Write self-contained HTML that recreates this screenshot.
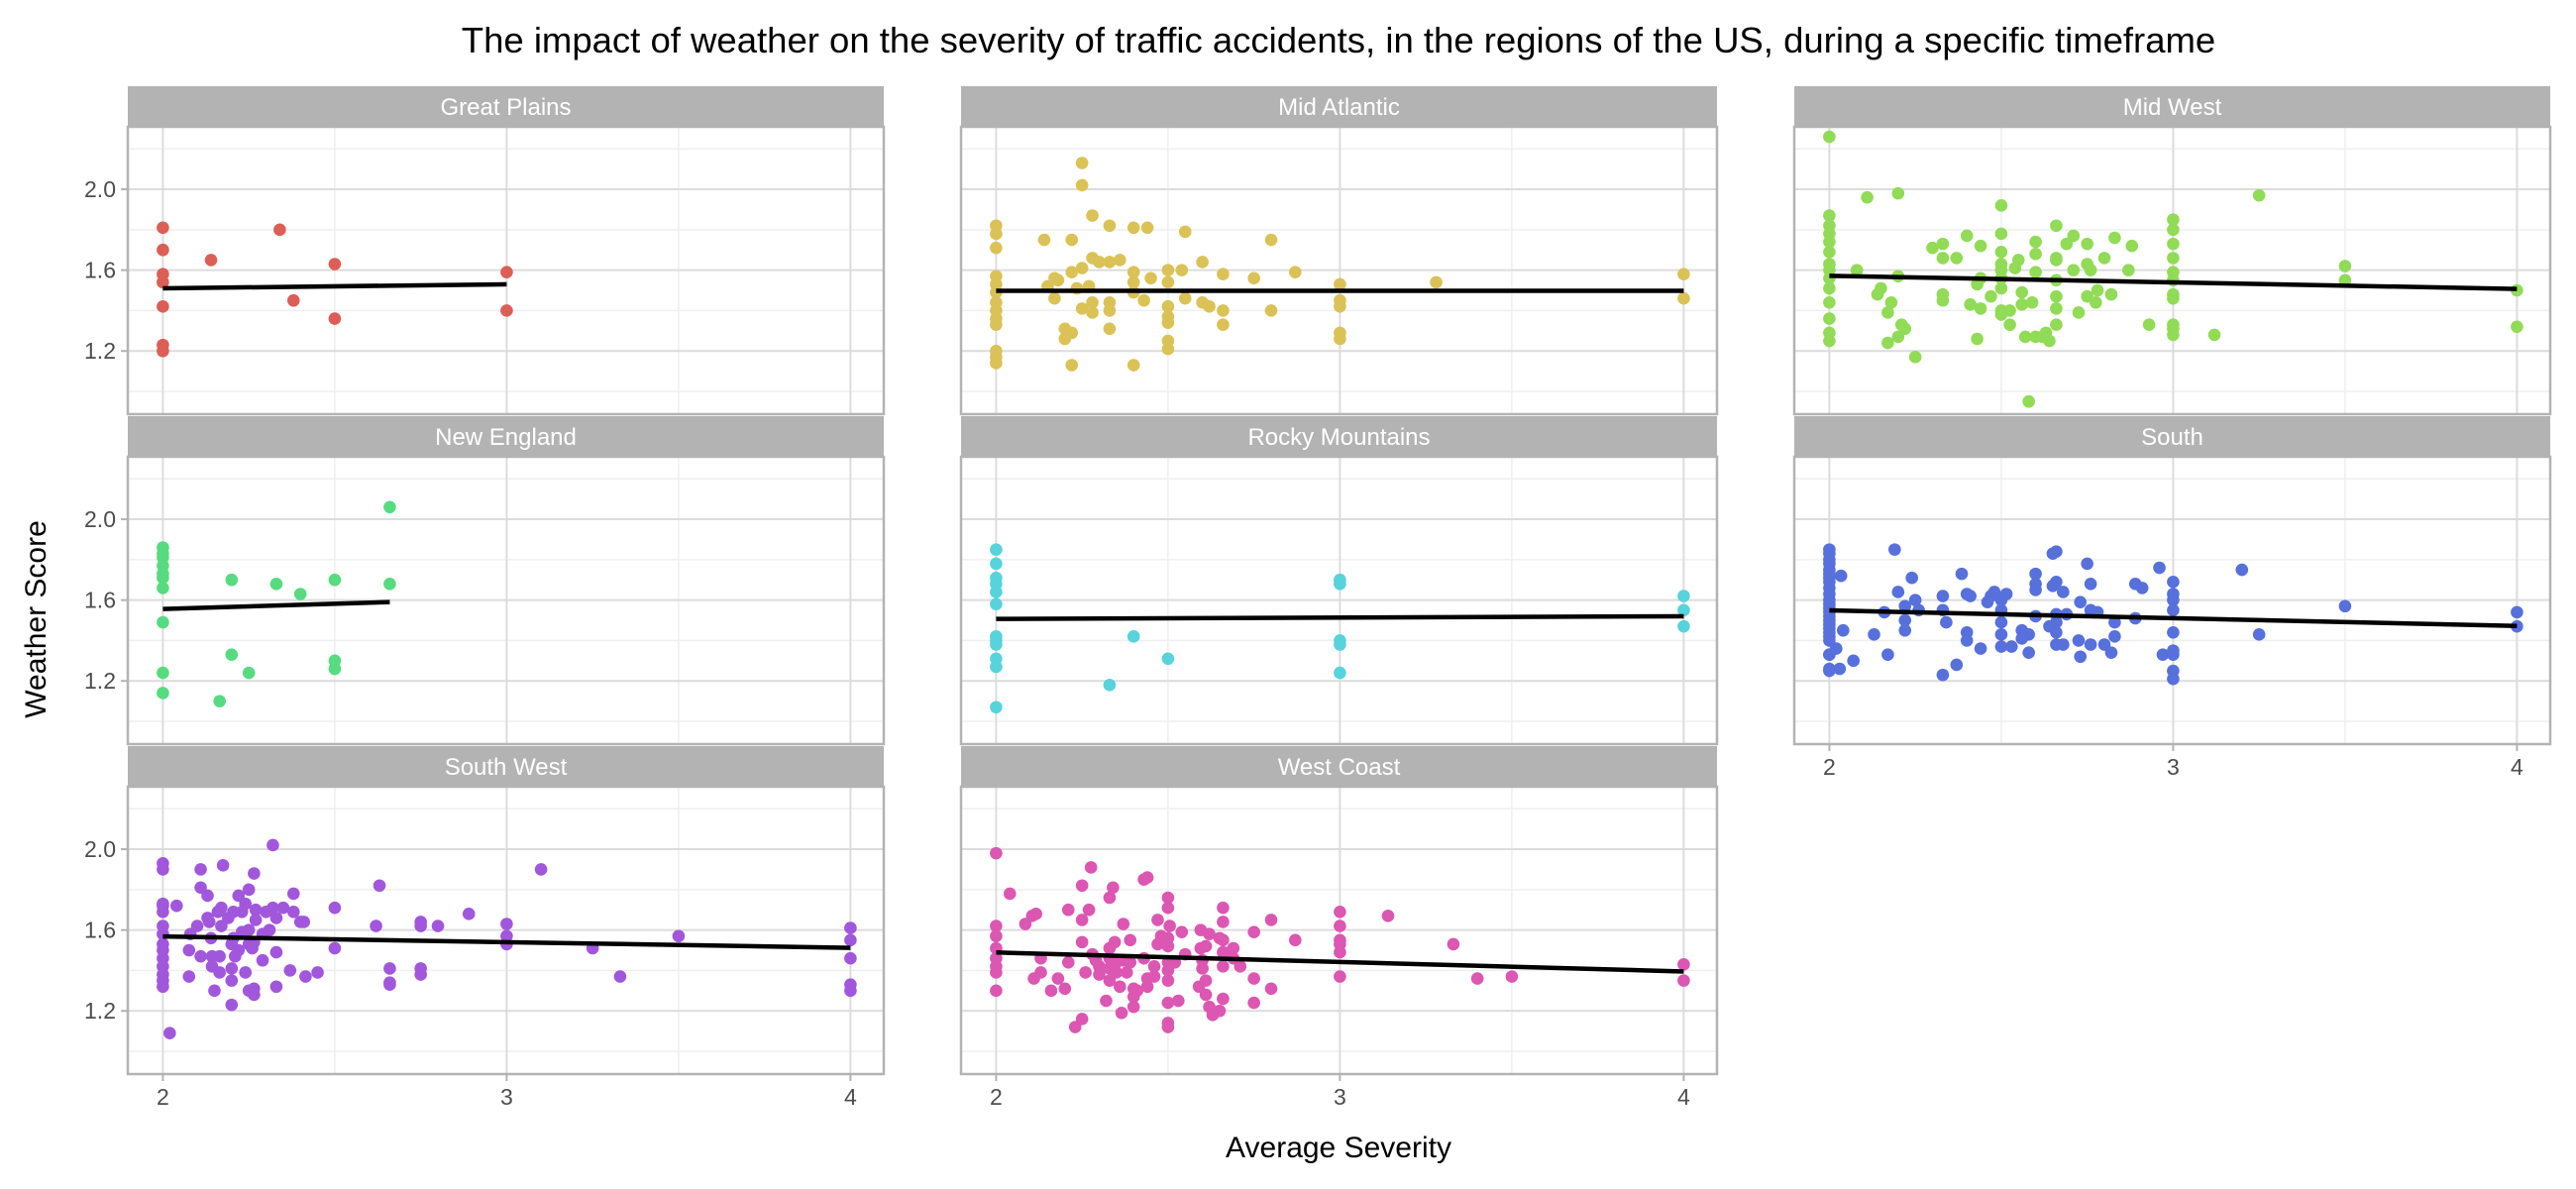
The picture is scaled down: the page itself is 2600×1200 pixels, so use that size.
<!DOCTYPE html>
<html><head><meta charset="utf-8"><style>
html,body{margin:0;padding:0;background:#fff;}
svg{display:block;font-family:"Liberation Sans",sans-serif;}
</style></head><body>
<svg id="chart" width="2600" height="1200" viewBox="0 0 2600 1200" xmlns="http://www.w3.org/2000/svg">
<rect width="2600" height="1200" fill="#fff"/>
<text x="1351" y="53" text-anchor="middle" font-size="36.5" fill="#000">The impact of weather on the severity of traffic accidents, in the regions of the US, during a specific timeframe</text>
<text x="1351" y="1168" text-anchor="middle" font-size="30" fill="#000">Average Severity</text>
<text x="46" y="625" text-anchor="middle" font-size="30" fill="#000" transform="rotate(-90 46 625)">Weather Score</text>
<g id="panels"></g>
</svg>
<script>
const regions = ["Great Plains","Mid Atlantic","Mid West","New England","Rocky Mountains","South","South West","West Coast"];
const colors = ["#db5f57","#dbc257","#91db57","#57db80","#57d3db","#5770db","#a157db","#db57b2"];
const xTicks = [2,3,4];
const yTicks = [1.2,1.6,2.0];
const yTickLabels = ["1.2","1.6","2.0"];

const gpX = [2,2,2,2,2,2,2,2.14,2.34,2.38,2.5,2.5,3,3];
const gpY = [1.81,1.70,1.58,1.54,1.42,1.23,1.20,1.65,1.80,1.45,1.63,1.36,1.59,1.40];

const maX = [2,2,2,2,2,2,2,2,2,2,2,2,2,2.14,2.15,2.17,2.17,2.18,2.20,2.20,2.22,2.22,2.22,2.22,2.235,2.25,2.25,2.25,2.25,2.27,2.28,2.28,2.28,2.28,2.30,2.33,2.33,2.33,2.33,2.33,2.36,2.40,2.40,2.40,2.40,2.40,2.43,2.44,2.45,2.5,2.5,2.5,2.5,2.5,2.5,2.5,2.54,2.55,2.55,2.60,2.60,2.62,2.66,2.66,2.66,2.75,2.80,2.80,2.87,3,3,3,3,3,3.28,4,4];
const maY = [1.82,1.78,1.71,1.57,1.53,1.49,1.44,1.40,1.36,1.33,1.20,1.17,1.14,1.75,1.52,1.56,1.46,1.55,1.31,1.26,1.75,1.59,1.29,1.13,1.51,2.13,2.02,1.61,1.41,1.52,1.87,1.66,1.44,1.39,1.64,1.82,1.64,1.44,1.40,1.31,1.65,1.81,1.59,1.54,1.49,1.13,1.45,1.81,1.56,1.60,1.54,1.42,1.37,1.34,1.25,1.21,1.60,1.79,1.46,1.64,1.44,1.42,1.58,1.40,1.33,1.56,1.75,1.40,1.59,1.53,1.45,1.42,1.29,1.26,1.54,1.58,1.46];

const mwX = [2,2,2,2,2,2,2,2,2,2,2,2,2,2,2.08,2.11,2.14,2.15,2.17,2.17,2.18,2.20,2.20,2.20,2.21,2.22,2.25,2.30,2.33,2.33,2.33,2.33,2.37,2.40,2.41,2.43,2.43,2.44,2.44,2.44,2.47,2.5,2.5,2.5,2.5,2.5,2.5,2.5,2.5,2.5,2.525,2.525,2.54,2.55,2.56,2.56,2.57,2.58,2.59,2.60,2.60,2.60,2.60,2.62,2.63,2.64,2.66,2.66,2.66,2.66,2.66,2.66,2.66,2.69,2.71,2.71,2.725,2.75,2.75,2.75,2.76,2.775,2.78,2.80,2.82,2.83,2.87,2.88,2.93,3,3,3,3,3,3,3,3,3,3,3,3.12,3.25,3.5,3.5,4,4];
const mwY = [2.26,1.87,1.82,1.78,1.74,1.69,1.63,1.60,1.56,1.51,1.44,1.36,1.29,1.25,1.60,1.96,1.48,1.51,1.39,1.24,1.44,1.98,1.57,1.27,1.33,1.31,1.17,1.71,1.73,1.66,1.48,1.45,1.66,1.77,1.43,1.53,1.26,1.72,1.56,1.41,1.47,1.92,1.78,1.69,1.63,1.60,1.56,1.51,1.40,1.38,1.33,1.40,1.61,1.65,1.49,1.43,1.27,0.95,1.44,1.74,1.68,1.59,1.27,1.27,1.29,1.25,1.82,1.66,1.65,1.55,1.47,1.41,1.33,1.73,1.77,1.60,1.39,1.73,1.63,1.47,1.60,1.44,1.50,1.66,1.48,1.76,1.60,1.72,1.33,1.85,1.80,1.73,1.66,1.59,1.55,1.48,1.46,1.33,1.31,1.28,1.28,1.97,1.62,1.55,1.50,1.32];

const neX = [2,2,2,2,2,2,2,2,2,2,2.165,2.20,2.20,2.25,2.33,2.40,2.5,2.5,2.5,2.66,2.66];
const neY = [1.86,1.83,1.81,1.77,1.73,1.71,1.66,1.49,1.24,1.14,1.10,1.70,1.33,1.24,1.68,1.63,1.70,1.30,1.26,2.06,1.68];

const rmX = [2,2,2,2,2,2,2,2,2,2,2,2,2.33,2.40,2.5,3,3,3,3,3,4,4,4];
const rmY = [1.85,1.78,1.71,1.68,1.64,1.58,1.42,1.40,1.38,1.31,1.27,1.07,1.18,1.42,1.31,1.70,1.68,1.40,1.38,1.24,1.62,1.55,1.47];

const soX = [2,2,2,2,2,2,2,2,2,2,2,2,2,2,2,2,2,2,2,2,2,2,2,2,2.02,2.0,2.03,2.034,2.04,2.07,2.13,2.16,2.17,2.19,2.20,2.22,2.22,2.22,2.24,2.25,2.26,2.33,2.33,2.33,2.34,2.37,2.385,2.40,2.40,2.40,2.41,2.44,2.46,2.47,2.48,2.5,2.5,2.5,2.5,2.5,2.515,2.53,2.56,2.56,2.58,2.58,2.60,2.60,2.60,2.60,2.64,2.65,2.65,2.66,2.66,2.66,2.66,2.66,2.66,2.68,2.68,2.69,2.725,2.73,2.73,2.75,2.76,2.76,2.76,2.78,2.80,2.82,2.83,2.83,2.89,2.89,2.91,2.96,2.97,3,3,3,3,3,3,3,3,3,3.20,3.25,3.5,4,4];
const soY = [1.85,1.83,1.80,1.78,1.75,1.73,1.71,1.69,1.66,1.63,1.60,1.58,1.56,1.54,1.52,1.50,1.48,1.46,1.44,1.42,1.40,1.33,1.26,1.25,1.36,1.33,1.26,1.72,1.45,1.30,1.43,1.54,1.33,1.85,1.64,1.57,1.50,1.45,1.71,1.60,1.55,1.62,1.55,1.23,1.49,1.28,1.73,1.63,1.44,1.40,1.62,1.36,1.59,1.62,1.64,1.60,1.55,1.49,1.43,1.37,1.63,1.37,1.45,1.41,1.34,1.43,1.73,1.68,1.65,1.52,1.47,1.83,1.67,1.84,1.69,1.53,1.49,1.44,1.38,1.64,1.38,1.53,1.40,1.59,1.32,1.78,1.68,1.55,1.38,1.54,1.38,1.34,1.49,1.42,1.68,1.51,1.66,1.76,1.33,1.69,1.63,1.60,1.55,1.44,1.35,1.33,1.25,1.21,1.75,1.43,1.57,1.54,1.47];

const swX = [2,2,2,2,2,2,2,2,2,2,2,2,2,2,2.02,2.04,2.076,2.076,2.08,2.10,2.11,2.11,2.11,2.13,2.13,2.135,2.14,2.143,2.143,2.15,2.16,2.165,2.165,2.17,2.17,2.175,2.19,2.20,2.20,2.20,2.20,2.205,2.205,2.21,2.22,2.22,2.23,2.23,2.24,2.24,2.25,2.25,2.25,2.25,2.26,2.265,2.265,2.265,2.265,2.27,2.27,2.29,2.29,2.30,2.31,2.32,2.32,2.33,2.33,2.33,2.35,2.37,2.38,2.38,2.40,2.41,2.415,2.45,2.5,2.5,2.62,2.63,2.66,2.66,2.66,2.75,2.75,2.75,2.75,2.80,2.89,3,3,3,3.10,3.25,3.33,3.5,4,4,4,4,4];
const swY = [1.93,1.90,1.73,1.72,1.69,1.62,1.58,1.53,1.50,1.46,1.42,1.38,1.35,1.32,1.09,1.72,1.50,1.37,1.58,1.62,1.90,1.81,1.47,1.77,1.66,1.64,1.56,1.42,1.47,1.30,1.69,1.47,1.39,1.71,1.62,1.92,1.66,1.41,1.35,1.23,1.53,1.69,1.56,1.47,1.77,1.50,1.59,1.69,1.39,1.73,1.80,1.60,1.53,1.30,1.51,1.88,1.28,1.31,1.54,1.65,1.70,1.45,1.58,1.69,1.60,1.71,2.02,1.66,1.49,1.32,1.71,1.40,1.78,1.69,1.64,1.64,1.37,1.39,1.71,1.51,1.62,1.82,1.41,1.34,1.33,1.64,1.62,1.41,1.38,1.62,1.68,1.63,1.57,1.53,1.90,1.51,1.37,1.57,1.61,1.55,1.46,1.33,1.30];

const wcX = [2,2,2,2,2,2,2,2,2.04,2.085,2.105,2.116,2.11,2.13,2.13,2.16,2.18,2.20,2.21,2.21,2.23,2.25,2.25,2.25,2.25,2.26,2.27,2.276,2.28,2.29,2.30,2.30,2.32,2.33,2.33,2.33,2.33,2.33,2.34,2.345,2.35,2.35,2.36,2.365,2.37,2.37,2.38,2.39,2.39,2.40,2.40,2.40,2.41,2.43,2.43,2.44,2.44,2.44,2.46,2.46,2.47,2.47,2.48,2.5,2.5,2.5,2.5,2.5,2.5,2.5,2.5,2.5,2.5,2.505,2.52,2.53,2.54,2.55,2.59,2.595,2.595,2.60,2.60,2.61,2.61,2.61,2.62,2.62,2.63,2.65,2.65,2.66,2.66,2.66,2.66,2.66,2.66,2.68,2.69,2.69,2.71,2.75,2.75,2.75,2.80,2.80,2.87,3,3,3,3,3,3,3.14,3.33,3.40,3.5,4,4];
const wcY = [1.98,1.62,1.57,1.51,1.46,1.42,1.39,1.30,1.78,1.63,1.67,1.68,1.36,1.46,1.39,1.30,1.36,1.31,1.70,1.44,1.12,1.82,1.65,1.54,1.16,1.39,1.70,1.91,1.48,1.45,1.42,1.38,1.25,1.51,1.46,1.41,1.76,1.35,1.81,1.54,1.44,1.39,1.32,1.19,1.63,1.45,1.39,1.55,1.44,1.31,1.27,1.22,1.30,1.85,1.46,1.86,1.36,1.32,1.42,1.37,1.53,1.65,1.57,1.76,1.71,1.56,1.52,1.44,1.40,1.35,1.24,1.14,1.12,1.62,1.44,1.25,1.59,1.48,1.32,1.60,1.51,1.45,1.41,1.52,1.35,1.28,1.22,1.58,1.18,1.56,1.20,1.71,1.64,1.55,1.49,1.42,1.26,1.49,1.51,1.46,1.42,1.59,1.36,1.24,1.65,1.31,1.55,1.69,1.62,1.55,1.53,1.49,1.37,1.67,1.53,1.36,1.37,1.43,1.35];

const allX = [gpX, maX, mwX, neX, rmX, soX, swX, wcX];
const allY = [gpY, maY, mwY, neY, rmY, soY, swY, wcY];
const trendX0 = [2,2,2,2,2,2,2,2];
const trendX1 = [3,4,4,2.66,4,4,4,4];
const trendY0 = [1.51,1.498,1.572,1.556,1.507,1.549,1.568,1.489];
const trendY1 = [1.53,1.498,1.507,1.59,1.52,1.472,1.512,1.395];

const NS = "http://www.w3.org/2000/svg";
const colLeft = [129, 970, 1811];
const rowTop = [128, 461, 794];
const PW = 763, PH = 290, STRIP = 41;
const X_MIN = 1.898, X_PER = 347, Y_MAX = 2.309, Y_PER = 204;
const xMinor = [2.5, 3.5];
const yMinor = [1.0, 1.4, 1.8, 2.2];

function mk(tag, attrs, parent) {
  const e = document.createElementNS(NS, tag);
  for (const k in attrs) e.setAttribute(k, attrs[k]);
  parent.appendChild(e);
  return e;
}
const root = document.getElementById("panels");

regions.forEach((name, i) => {
  const col = i % 3, row = Math.floor(i / 3);
  const L = colLeft[col], T = rowTop[row];
  const sx = v => L + (v - X_MIN) * X_PER;
  const sy = v => T + (Y_MAX - v) * Y_PER;
  const g = mk("g", {}, root);
  
  

  const strip = mk("rect", {x: L, y: T - STRIP, width: PW, height: STRIP, fill: "#b3b3b3"}, g);
  
  
  const st = mk("text", {x: L + PW / 2, y: T - 12, "text-anchor": "middle", "font-size": 24, fill: "#fff"}, g);
  st.textContent = name;
  
  

  yMinor.forEach(v => { mk("line", {x1: L, x2: L + PW, y1: sy(v), y2: sy(v), stroke: "#efefef", "stroke-width": 1.5}, g); });
  xMinor.forEach(v => { mk("line", {x1: sx(v), x2: sx(v), y1: T, y2: T + PH, stroke: "#efefef", "stroke-width": 1.5}, g); });
  yTicks.forEach(v => {
    const gl = mk("line", {x1: L, x2: L + PW, y1: sy(v), y2: sy(v), stroke: "#dcdcdc", "stroke-width": 2}, g);
    
    
  });
  xTicks.forEach(v => {
    const gl = mk("line", {x1: sx(v), x2: sx(v), y1: T, y2: T + PH, stroke: "#dcdcdc", "stroke-width": 2}, g);
    
    
  });

  const xs = allX[i], ys = allY[i];
  xs.forEach((xv, j) => {
    const c = mk("ellipse", {cx: sx(xv), cy: sy(ys[j]), rx: 6.3, ry: 6.3, fill: colors[i]}, g);
    
    
  });

  const tl = mk("line", {x1: sx(trendX0[i]), y1: sy(trendY0[i]), x2: sx(trendX1[i]), y2: sy(trendY1[i]), stroke: "#000", "stroke-width": 4.5}, g);
  
  

  const br = mk("rect", {x: L, y: T, width: PW, height: PH, fill: "none", stroke: "#b3b3b3", "stroke-width": 2.5}, g);
  
  

  if (col === 0) {
    yTicks.forEach((v, k) => {
      mk("line", {x1: L - 7, x2: L, y1: sy(v), y2: sy(v), stroke: "#b3b3b3", "stroke-width": 2}, g);
      const t = mk("text", {x: L - 12, y: sy(v) + 8, "text-anchor": "end", "font-size": 23, fill: "#4d4d4d"}, g);
      t.textContent = yTickLabels[k];
      
      
    });
  }
  const bottomVisible = (row === 2) || (row === 1 && col === 2);
  if (bottomVisible) {
    xTicks.forEach(v => {
      mk("line", {x1: sx(v), x2: sx(v), y1: T + PH, y2: T + PH + 7, stroke: "#b3b3b3", "stroke-width": 2}, g);
      const t = mk("text", {x: sx(v), y: T + PH + 31, "text-anchor": "middle", "font-size": 23, fill: "#4d4d4d"}, g);
      t.textContent = String(v);
      
      
    });
  }
});
</script>
</body></html>
